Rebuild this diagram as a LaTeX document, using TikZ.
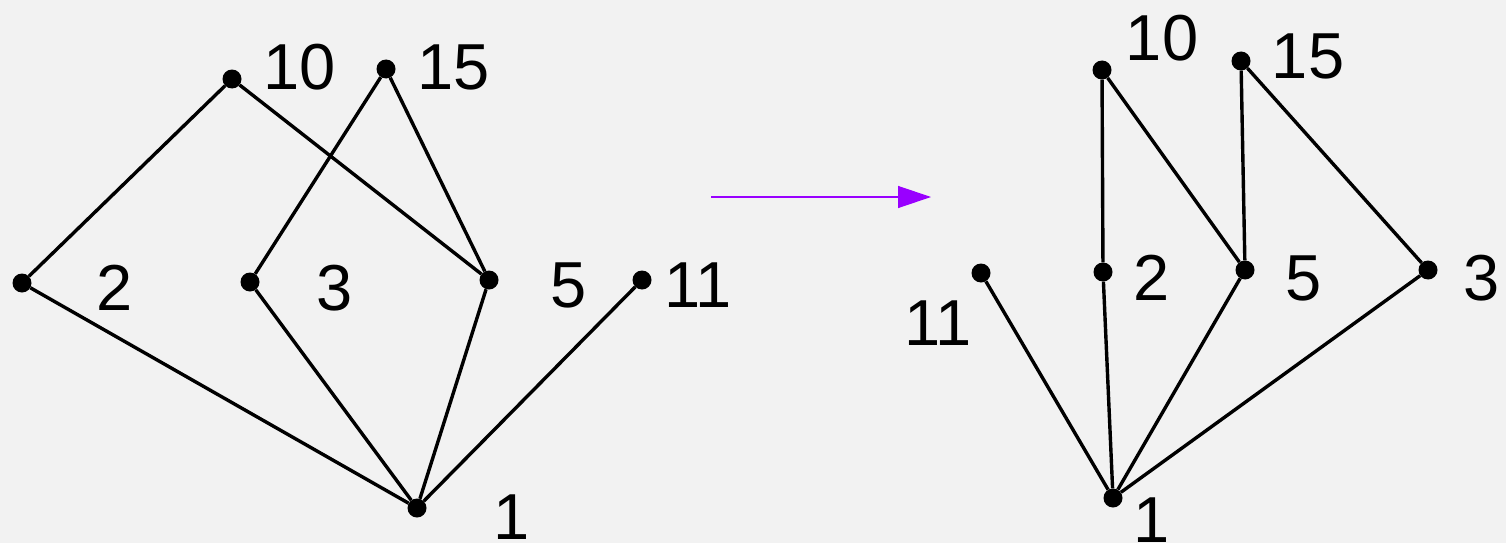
\documentclass[tikz,border=0pt]{standalone}
\usepackage{fontspec}
\setmainfont{Liberation Sans}
\usetikzlibrary{arrows.meta}
\definecolor{bg}{HTML}{F2F2F2}
\definecolor{arrowpurple}{HTML}{9900FF}
\tikzset{
  vert/.style={circle,fill=black,inner sep=0pt,minimum size=19pt},
  lbl/.style={font=\fontsize{65}{68}\selectfont,inner sep=0pt,text=black},
  edge/.style={line width=3.4pt,black},
}
\begin{document}
\begin{tikzpicture}[x=1pt,y=-1pt]
\fill[bg] (0,0) rectangle (1506,543);
\useasboundingbox (0,0) rectangle (1506,543);
% left graph
\node[vert] (a10) at (232,79) {};
\node[vert] (a15) at (386,69) {};
\node[vert] (a2) at (22,283) {};
\node[vert] (a3) at (250,282) {};
\node[vert] (a5) at (489,280) {};
\node[vert] (a11) at (642,280) {};
\node[vert] (a1) at (417,508) {};
\draw[edge] (a10) -- (a2);
\draw[edge] (a10) -- (a5);
\draw[edge] (a15) -- (a3);
\draw[edge] (a15) -- (a5);
\draw[edge] (a2) -- (a1);
\draw[edge] (a3) -- (a1);
\draw[edge] (a5) -- (a1);
\draw[edge] (a11) -- (a1);
\node[lbl] (la10) at (300,67) {10};
\node[lbl] (la15) at (454,67) {15};
\node[lbl] (la2) at (115,288) {2};
\node[lbl] (la3) at (335,288) {3};
\node[lbl] (la5) at (569,285) {5};
\node[lbl] (la11) at (698,285) {11};
\node[lbl] (la1) at (512,517) {1};
% arrow
\coordinate (arrS) at (711,197);
\coordinate (arrE) at (931,197);
\draw[arrowpurple,line width=1.3pt,-{Triangle[length=33pt,width=22pt]}] (arrS) -- (arrE);
% right graph
\node[vert] (b10) at (1102,70) {};
\node[vert] (b15) at (1241,61) {};
\node[vert] (b11) at (981,273) {};
\node[vert] (b2) at (1103,272) {};
\node[vert] (b5) at (1245,270) {};
\node[vert] (b3) at (1428,270) {};
\node[vert] (b1) at (1113,498) {};
\draw[edge] (b10) -- (b2);
\draw[edge] (b10) -- (b5);
\draw[edge] (b15) -- (b5);
\draw[edge] (b15) -- (b3);
\draw[edge] (b11) -- (b1);
\draw[edge] (b2) -- (b1);
\draw[edge] (b5) -- (b1);
\draw[edge] (b3) -- (b1);
\node[lbl] (lb10) at (1162,38) {10};
\node[lbl] (lb15) at (1308,56) {15};
\node[lbl] (lb11) at (938,323) {11};
\node[lbl] (lb2) at (1152,278) {2};
\node[lbl] (lb5) at (1304,278) {5};
\node[lbl] (lb3) at (1482,278) {3};
\node[lbl] (lb1) at (1152,520) {1};
\end{tikzpicture}
\end{document}
